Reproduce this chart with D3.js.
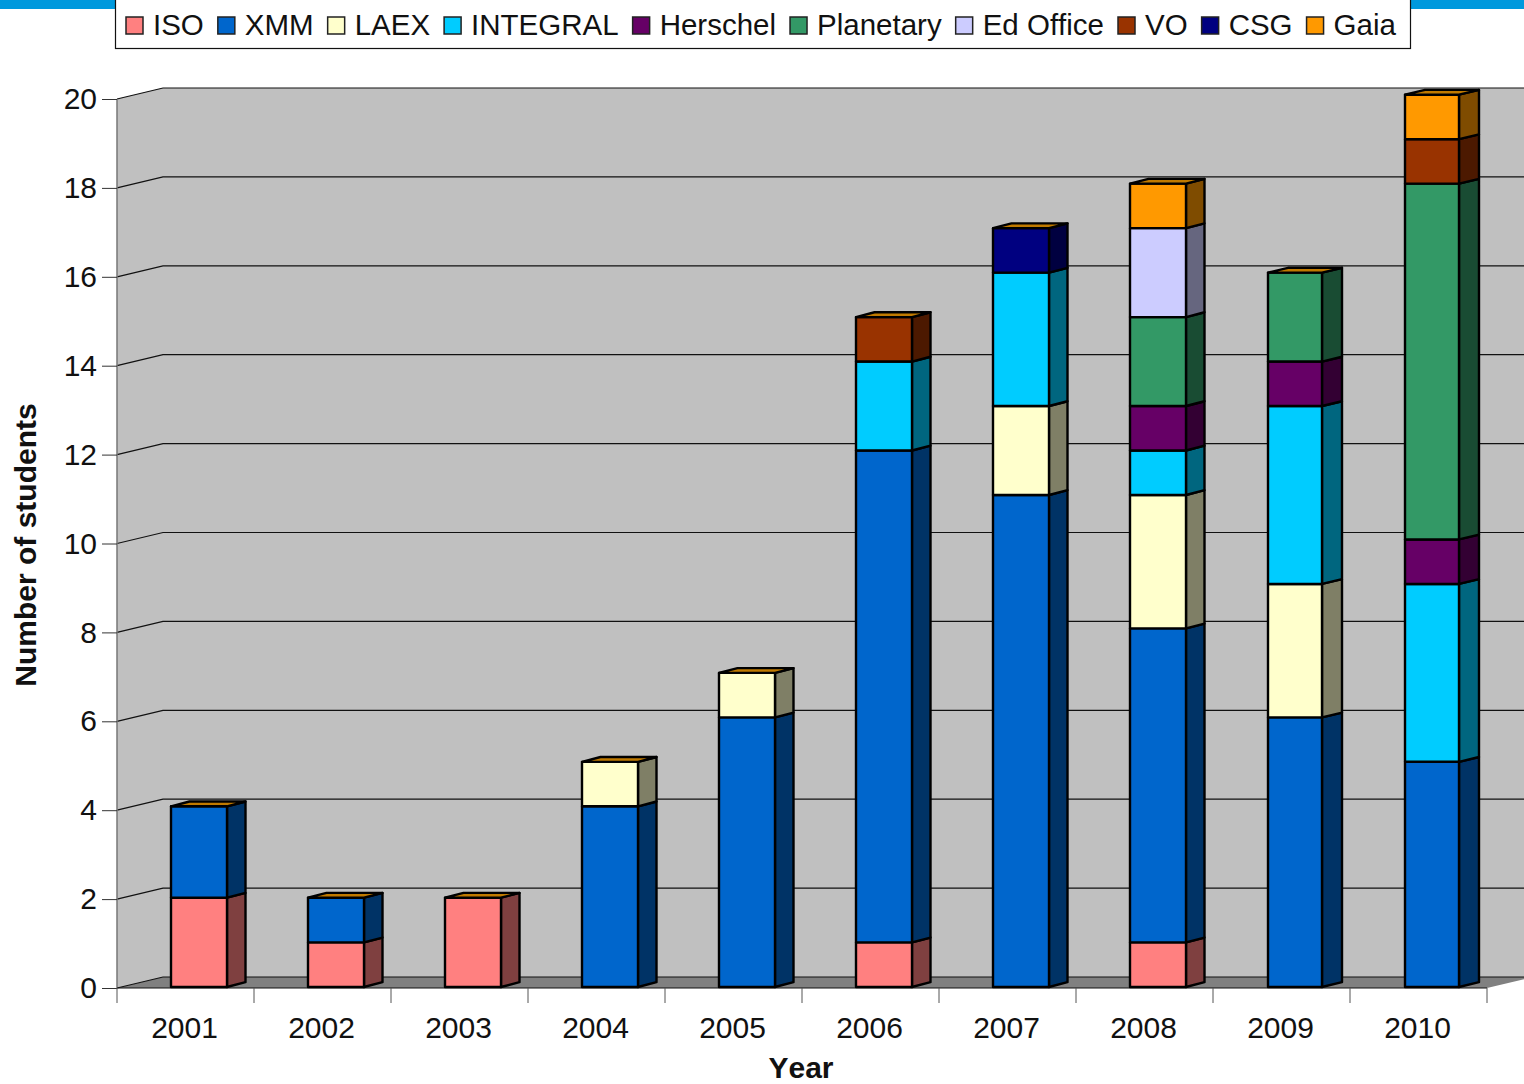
<!DOCTYPE html>
<html>
<head>
<meta charset="utf-8">
<script src="https://d3js.org/d3.v7.min.js"></script>
<style>
  html, body { margin: 0; padding: 0; background: #fff; }
  svg { display: block; font-family: "Liberation Sans", Arial, sans-serif; font-kerning: none; }
</style>
</head>
<body>
<div id="chart"></div>
<script>
const years = ["2001", "2002", "2003", "2004", "2005", "2006", "2007", "2008", "2009", "2010"];
const seriesNames = ["ISO", "XMM", "LAEX", "INTEGRAL", "Herschel", "Planetary", "Ed Office", "VO", "CSG", "Gaia"];
const seriesColors = ["#ff8080", "#0066cc", "#ffffcc", "#00ccff", "#660066", "#339966", "#ccccff", "#993300", "#000080", "#ff9900"];

// values per year, same order as years
const iso       = [2, 1, 2, 0, 0, 1, 0, 1, 0, 0];
const xmm       = [2, 1, 0, 4, 6, 11, 11, 7, 6, 5];
const laex      = [0, 0, 0, 1, 1, 0, 2, 3, 3, 0];
const integral  = [0, 0, 0, 0, 0, 2, 3, 1, 4, 4];
const herschel  = [0, 0, 0, 0, 0, 0, 0, 1, 1, 1];
const planetary = [0, 0, 0, 0, 0, 0, 0, 2, 2, 8];
const edOffice  = [0, 0, 0, 0, 0, 0, 0, 2, 0, 0];
const vo        = [0, 0, 0, 0, 0, 1, 0, 0, 0, 1];
const csg       = [0, 0, 0, 0, 0, 0, 1, 0, 0, 0];
const gaia      = [0, 0, 0, 0, 0, 0, 0, 1, 0, 1];
const seriesValues = [iso, xmm, laex, integral, herschel, planetary, edOffice, vo, csg, gaia];
const yTicks = d3.range(0, 21, 2);

const W = 1524, H = 1084;
const wallDx = 46, wallDy = -11;   // back wall offset
const barDy = -4.8;                // bar depth
const barShift = 13.5;

const svg = d3.select("#chart").append("svg").attr("width", W).attr("height", H);

const x = d3.scaleBand().domain(years).range([117, 1487]);
const y = d3.scaleLinear().domain([0, 20]).range([988, 99]);
// bars stand in front of the wall, so they do not follow the axis exactly
const yBar = d3.scaleLinear().domain([0, 2, 4, 20]).range([987, 897.7, 806.3, 94.7]);

const rows = years.map((yr, i) => {
  const row = { year: yr };
  seriesNames.forEach((s, j) => { row[s] = seriesValues[j][i]; });
  return row;
});
const stacked = d3.stack().keys(seriesNames)(rows);
const color = d3.scaleOrdinal().domain(seriesNames).range(seriesColors);

const poly = pts => pts.map(p => p.join(",")).join(" ");
const y0 = y(0), yTop = y(20);
const xMin = x.range()[0], xMax = x.range()[1];

// top strip behind the legend
svg.append("rect").attr("x", 0).attr("y", 0).attr("width", W).attr("height", 9).attr("fill", "#0099dd");

// walls and floor
svg.append("polygon")
  .attr("points", poly([[xMin, y0], [xMin + wallDx, y0 + wallDy], [xMax + wallDx, y0 + wallDy], [xMax + wallDx, yTop + wallDy], [xMin + wallDx, yTop + wallDy], [xMin, yTop]]))
  .attr("fill", "#c0c0c0");
svg.append("polygon")
  .attr("points", poly([[xMin, y0], [xMin + wallDx, y0 + wallDy], [xMax + wallDx, y0 + wallDy], [xMax, y0]]))
  .attr("fill", "#808080");

// gridlines on the wall
const grid = svg.append("g").attr("fill", "none").attr("stroke", "#111").attr("stroke-width", 1.2);
yTicks.forEach(t => {
  grid.append("polyline")
    .attr("points", poly([[xMin, y(t)], [xMin + wallDx, y(t) + wallDy], [xMax + wallDx, y(t) + wallDy]]));
});

// axes
const yAxis = svg.append("g").attr("transform", `translate(${xMin},0)`)
  .call(d3.axisLeft(y).tickValues(yTicks).tickSize(15).tickPadding(5).tickFormat(d3.format("d")));
const xAxis = svg.append("g").attr("transform", `translate(0,${y0})`)
  .call(d3.axisBottom(x).tickSize(0).tickPadding(29));
xAxis.selectAll("line").remove();
xAxis.selectAll(".tick text").attr("dx", -1);
svg.append("g").selectAll("line")
  .data(d3.range(0, years.length + 1))
  .enter().append("line")
  .attr("x1", d => xMin + d * x.step()).attr("x2", d => xMin + d * x.step())
  .attr("y1", y0).attr("y2", y0 + 15)
  .attr("stroke", "#555").attr("stroke-width", 1);
[yAxis, xAxis].forEach(a => {
  a.selectAll(".domain").attr("stroke", "#777").attr("stroke-width", 1.5);
  a.selectAll(".tick line").attr("stroke", "#333");
  a.selectAll("text").attr("font-size", 30).attr("fill", "#111").attr("font-family", "Liberation Sans");
});
yAxis.selectAll(".domain").attr("d", `M0,${y0}V${yTop}`);
xAxis.selectAll(".domain").attr("d", `M${xMin},0H${xMax}`).attr("stroke", "#111").attr("stroke-width", 1.2);

// the last two columns come out a little narrower and deeper in the original
const narrowYears = ["2009", "2010"];
const barWidth = yr => narrowYears.includes(yr) ? 54 : 56;
const barDx = yr => narrowYears.includes(yr) ? 20 : 18.5;
const barLeft = yr => x(yr) + x.bandwidth() / 2 + barShift - barWidth(yr) / 2;

// bars, bottom segment first
const dark = c => d3.rgb(c).darker(1.95).formatHex();
const bars = svg.append("g").attr("stroke", "#000").attr("stroke-width", 2.4).attr("stroke-linejoin", "round");

stacked.forEach(layer => {
  const c = color(layer.key);
  layer.forEach(d => {
    if (d[1] === d[0]) return;
    const yr = d.data.year;
    const l = barLeft(yr), r = l + barWidth(yr), dx = barDx(yr);
    const t = yBar(d[1]), b = yBar(d[0]);
    bars.append("polygon")
      .attr("points", poly([[r, b], [r + dx, b + barDy], [r + dx, t + barDy], [r, t]]))
      .attr("fill", dark(c));
    bars.append("rect")
      .attr("x", l).attr("y", t).attr("width", barWidth(yr)).attr("height", b - t)
      .attr("fill", c);
  });
});

// the cap of every column keeps the colour of the last series
rows.forEach(row => {
  const total = d3.sum(seriesNames, s => row[s]);
  const l = barLeft(row.year), r = l + barWidth(row.year), t = yBar(total), dx = barDx(row.year);
  bars.append("polygon")
    .attr("points", poly([[l, t], [l + dx, t + barDy], [r + dx, t + barDy], [r, t]]))
    .attr("fill", "#c07a00");
});

// axis titles
svg.append("text").attr("x", 801).attr("y", 1078).attr("text-anchor", "middle")
  .attr("font-size", 30).attr("font-weight", "bold").attr("fill", "#111").text("Year");
svg.append("text").attr("transform", "translate(36,545) rotate(-90)").attr("text-anchor", "middle")
  .attr("font-size", 30).attr("font-weight", "bold").attr("fill", "#111").text("Number of students");

// legend
const legend = svg.append("g");
legend.append("rect").attr("x", 115.5).attr("y", -2).attr("width", 1295).attr("height", 50.5)
  .attr("fill", "#fff").attr("stroke", "#111").attr("stroke-width", 1.2);
let lx = 126;
seriesNames.forEach((s, i) => {
  legend.append("rect").attr("x", lx).attr("y", 17).attr("width", 17).attr("height", 17)
    .attr("fill", seriesColors[i]).attr("stroke", "#222").attr("stroke-width", 1.5);
  const label = legend.append("text").attr("x", lx + 27).attr("y", 35)
    .attr("font-size", 29.5).attr("fill", "#111").text(s);
  lx += 27 + label.node().getComputedTextLength() + 14;
});
</script>
</body>
</html>
